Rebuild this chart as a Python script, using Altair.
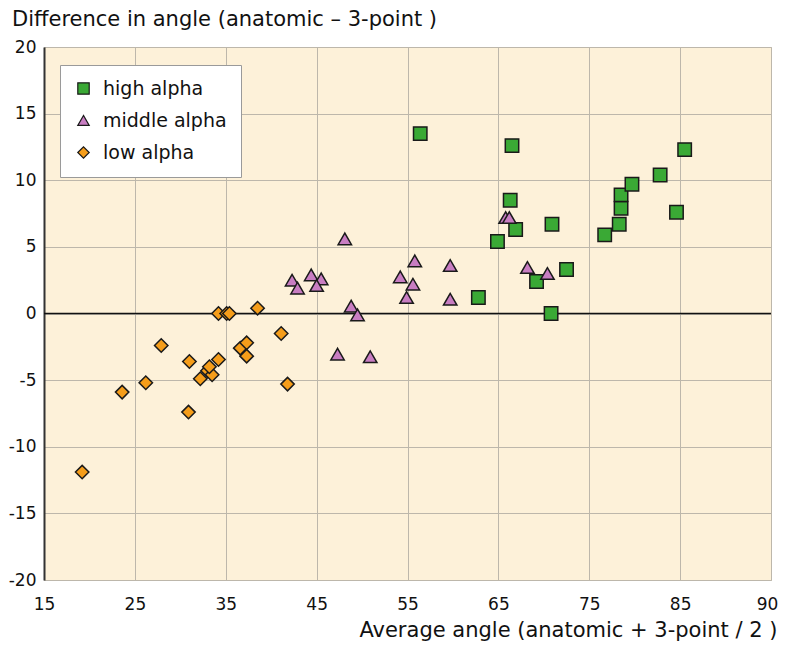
import altair as alt
import pandas as pd

# ---- data ----
groups = ["high alpha", "middle alpha", "low alpha"]

high_x = [56.4, 66.5, 66.3, 66.9, 64.9, 70.9, 62.8, 69.2, 72.5, 70.8, 76.7, 78.3, 78.5, 78.5, 79.7, 82.8, 85.5, 84.6]
high_y = [13.5, 12.6, 8.5, 6.3, 5.4, 6.7, 1.2, 2.4, 3.3, 0.0, 5.9, 6.7, 7.9, 8.9, 9.7, 10.4, 12.3, 7.6]

middle_x = [48.1, 42.3, 42.9, 44.4, 45.5, 45.0, 48.8, 49.5, 47.3, 50.9, 54.2, 55.8, 55.6, 54.9, 59.7, 59.7, 65.8, 66.2, 68.2, 70.4]
middle_y = [5.6, 2.5, 1.9, 2.9, 2.6, 2.1, 0.55, -0.1, -3.05, -3.25, 2.75, 3.95, 2.2, 1.2, 3.6, 1.07, 7.2, 7.2, 3.45, 3.0]

low_x = [19.2, 23.6, 26.2, 27.9, 31.0, 30.9, 32.2, 33.0, 33.5, 33.2, 34.2, 34.2, 35.1, 35.4, 38.5, 36.6, 37.3, 37.3, 41.1, 41.8]
low_y = [-11.9, -5.9, -5.2, -2.4, -3.6, -7.4, -4.9, -4.3, -4.6, -4.0, -3.45, 0.0, 0.0, 0.0, 0.4, -2.6, -2.2, -3.2, -1.5, -5.3]

x_ticks = [15, 25, 35, 45, 55, 65, 75, 85, 95]
y_ticks = [-20, -15, -10, -5, 0, 5, 10, 15, 20]

colors = ["#3aa935", "#c87dc2", "#f59d1a"]
shapes = ["square", "triangle-up", "diamond"]

FONT = "DejaVu Sans"

rows = []
for g, xs, ys in [(groups[0], high_x, high_y), (groups[1], middle_x, middle_y), (groups[2], low_x, low_y)]:
    for a, b in zip(xs, ys):
        rows.append({"group": g, "avg": a, "diff": b})
df = pd.DataFrame(rows)

x_scale = alt.Scale(domain=[15, 95], nice=False, zero=False)
y_scale = alt.Scale(domain=[-20, 20], nice=False, zero=False)

zero_line = alt.Chart(pd.DataFrame({"z": [0]})).mark_rule(color="#111111", strokeWidth=1.5).encode(
    y=alt.Y("z:Q", scale=y_scale)
)

points = alt.Chart(df).mark_point(filled=True, size=180, stroke="#1a1a1a", strokeWidth=1.5, opacity=1).encode(
    x=alt.X("avg:Q", scale=x_scale,
            axis=alt.Axis(values=x_ticks, title="Average angle (anatomic + 3-point / 2 )",
                          labelExpr="datum.value == 95 ? '90' : '' + datum.value",
                          labelOffset={"condition": {"test": "datum.value == 95", "value": -4}, "value": 0},
                          grid=True, domain=False, ticks=False, tickSize=0, labelFlush=False,
                          labelPadding=16, labelFontSize=17, labelColor="#111111",
                          labelFont=FONT, titleFont=FONT, titleFontSize=21,
                          titleFontWeight="normal", titleColor="#111111",
                          titleAlign="right", titleAnchor="end", titleBaseline="alphabetic",
                          titleX=733, titleY=56)),
    y=alt.Y("diff:Q", scale=y_scale,
            axis=alt.Axis(values=y_ticks, title=None,
                          labelExpr="'' + datum.value",
                          grid=True, domain=True, domainColor="#333333", domainWidth=2,
                          ticks=False, tickSize=0, labelPadding=8, labelFontSize=17,
                          labelColor="#111111", labelFont=FONT)),
    color=alt.Color("group:N", scale=alt.Scale(domain=groups, range=colors),
                    legend=alt.Legend(title=None, orient="none", legendX=16, legendY=18,
                                      fillColor="white", strokeColor="#9a9a9a", padding=14,
                                      labelFontSize=19, labelFont=FONT, labelColor="#111111",
                                      symbolSize=130, symbolStrokeColor="#1a1a1a",
                                      symbolStrokeWidth=1.2, symbolOpacity=1,
                                      rowPadding=12, labelOffset=10)),
    shape=alt.Shape("group:N", scale=alt.Scale(domain=groups, range=shapes)),
)

chart = alt.layer(zero_line, points).properties(
    width=727,
    height=533,
    autosize=alt.AutoSizeParams(type="none"),
    padding={"left": 36, "top": 39, "right": 8, "bottom": 62},
    title=alt.TitleParams("Difference in angle (anatomic – 3-point )", anchor="start", frame="group",
                          dx=-32, offset=0, dy=9, baseline="alphabetic", fontSize=21,
                          fontWeight="normal", font=FONT, color="#111111"),
).configure_view(
    fill="#fdf1d9", stroke="#c8c2b6"
).configure_axis(
    gridColor="#bdb7ab", gridWidth=1, gridOpacity=1
)

chart.save("out.html", embed_options={"renderer": "svg", "actions": False})
